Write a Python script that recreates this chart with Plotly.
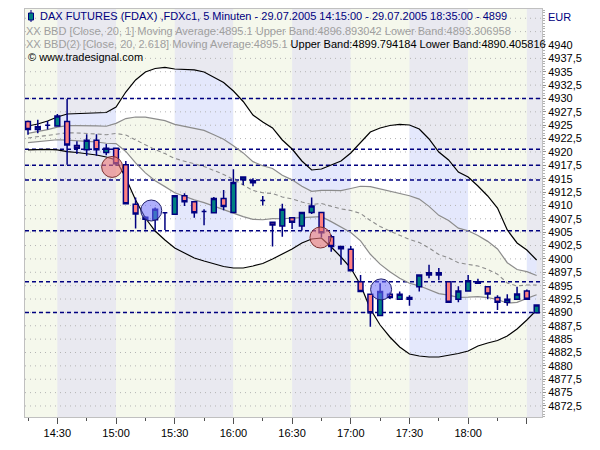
import numpy as np
import pandas as pd
import plotly.graph_objects as go

DAY = "2005-07-29 "

# 5-Minuten-Kerzen FDAX, 14:15 bis 18:35
bar_times = pd.date_range(DAY + "14:15", DAY + "18:35", freq="5min")

open_ = [4925.70, 4924.20, 4925.00, 4924.85, 4925.70, 4921.20, 4920.40, 4922.20, 4919.90, 4920.70,
         4917.60, 4910.20, 4907.80, 4907.30, 4908.65, 4908.35, 4911.80, 4910.70, 4908.85, 4908.65,
         4911.30, 4908.70, 4914.80, 4914.60, 4910.90, 4906.85, 4906.15, 4907.70, 4906.15, 4908.70,
         4908.70, 4904.15, 4902.30, 4901.80, 4895.75, 4893.40, 4889.40, 4893.40, 4892.45, 4892.80,
         4894.80, 4897.00, 4897.00, 4895.75, 4892.45, 4894.00, 4895.75, 4894.80, 4892.80, 4891.90,
         4892.45, 4894.00, 4889.95]
high = [4925.90, 4926.00, 4925.80, 4927.10, 4929.90, 4922.00, 4923.30, 4923.30, 4921.50, 4920.70,
        4918.30, 4911.50, 4908.00, 4909.60, 4908.65, 4911.80, 4912.30, 4910.70, 4909.30, 4911.60,
        4912.90, 4916.75, 4915.30, 4915.10, 4911.75, 4906.85, 4910.30, 4907.70, 4908.70, 4911.50,
        4908.70, 4904.50, 4902.30, 4902.40, 4897.00, 4893.40, 4895.45, 4893.70, 4893.90, 4893.20,
        4897.00, 4898.90, 4898.30, 4895.75, 4894.90, 4897.00, 4896.30, 4894.80, 4893.20, 4893.40,
        4894.80, 4894.30, 4891.40]
low = [4923.20, 4923.50, 4924.20, 4924.80, 4917.60, 4919.60, 4919.30, 4919.30, 4919.40, 4917.40,
       4910.30, 4905.70, 4905.50, 4905.30, 4905.40, 4908.30, 4909.90, 4907.70, 4906.30, 4908.65,
       4909.10, 4908.60, 4913.80, 4913.60, 4910.00, 4902.30, 4904.15, 4905.60, 4905.30, 4908.40,
       4904.00, 4901.35, 4898.90, 4897.80, 4893.90, 4887.30, 4889.40, 4892.50, 4892.45, 4891.25,
       4893.90, 4896.40, 4896.00, 4891.90, 4891.90, 4894.00, 4895.45, 4892.45, 4890.45, 4891.25,
       4892.45, 4892.45, 4889.95]
close = [4924.20, 4924.70, 4925.00, 4926.70, 4921.30, 4920.70, 4922.20, 4920.40, 4920.70, 4917.80,
         4910.30, 4908.40, 4907.40, 4909.30, 4908.65, 4911.80, 4910.70, 4908.65, 4908.85, 4911.30,
         4909.80, 4914.30, 4915.30, 4914.25, 4910.90, 4906.35, 4909.30, 4906.85, 4908.70, 4909.90,
         4904.90, 4902.30, 4901.90, 4897.80, 4893.90, 4889.95, 4893.90, 4892.80, 4893.40, 4892.45,
         4897.00, 4897.40, 4897.40, 4891.90, 4894.00, 4895.90, 4895.45, 4893.45, 4891.90, 4892.45,
         4893.45, 4892.45, 4891.40]

# Bollinger-Baender (20, 2.618) aussen und (20, 1) innen
bb_upper2 = [4924.85, 4925.23, 4925.79, 4926.54, 4927.10, 4927.19, 4927.29, 4927.29, 4927.38, 4928.41,
             4931.21, 4933.46, 4934.95, 4935.61, 4935.83, 4935.51, 4935.42, 4935.33, 4934.95, 4934.02,
             4932.99, 4931.40, 4929.44, 4926.91, 4925.60, 4924.48, 4922.24, 4920.55, 4918.31, 4916.63,
             4916.81, 4917.56, 4918.31, 4919.81, 4921.86, 4923.73, 4924.48, 4924.95, 4925.17, 4925.04,
             4924.29, 4922.42, 4919.99, 4918.50, 4916.25, 4915.32, 4913.63, 4911.77, 4909.52, 4905.41,
             4902.98, 4901.67, 4899.79]
bb_upper1 = [4923.47, 4923.76, 4924.16, 4924.63, 4924.92, 4924.94, 4924.95, 4924.86, 4924.81, 4925.35,
             4926.24, 4926.53, 4926.51, 4926.22, 4925.85, 4925.17, 4924.82, 4924.47, 4924.03, 4923.21,
             4922.36, 4921.17, 4919.82, 4918.19, 4917.42, 4916.91, 4915.65, 4914.78, 4913.57, 4912.64,
             4912.82, 4912.82, 4912.76, 4913.16, 4913.59, 4913.51, 4913.10, 4912.73, 4912.30, 4911.81,
             4911.18, 4909.83, 4908.15, 4907.20, 4905.76, 4905.27, 4904.39, 4903.28, 4901.87, 4899.29,
             4898.01, 4897.63, 4896.89]
bb_ma = [4922.61, 4922.85, 4923.15, 4923.46, 4923.58, 4923.55, 4923.50, 4923.36, 4923.22, 4923.46,
         4923.17, 4922.24, 4921.30, 4920.42, 4919.69, 4918.78, 4918.27, 4917.75, 4917.28, 4916.54,
         4915.79, 4914.85, 4913.87, 4912.80, 4912.37, 4912.23, 4911.58, 4911.21, 4910.65, 4910.18,
         4910.36, 4909.90, 4909.34, 4909.06, 4908.49, 4907.19, 4906.06, 4905.18, 4904.35, 4903.63,
         4903.07, 4902.04, 4900.83, 4900.22, 4899.28, 4899.05, 4898.68, 4898.03, 4897.14, 4895.50,
         4894.94, 4895.13, 4895.10]
bb_lower1 = [4921.75, 4921.93, 4922.13, 4922.28, 4922.23, 4922.15, 4922.05, 4921.86, 4921.63, 4921.56,
             4920.10, 4917.95, 4916.09, 4914.61, 4913.52, 4912.38, 4911.71, 4911.03, 4910.53, 4909.86,
             4909.21, 4908.53, 4907.92, 4907.41, 4907.32, 4907.55, 4907.51, 4907.64, 4907.72, 4907.71,
             4907.90, 4906.97, 4905.91, 4904.95, 4903.38, 4900.87, 4899.02, 4897.62, 4896.40, 4895.45,
             4894.97, 4894.26, 4893.51, 4893.24, 4892.80, 4892.84, 4892.96, 4892.78, 4892.40, 4891.72,
             4891.87, 4892.63, 4893.31]
bb_lower2 = [4920.37, 4920.46, 4920.50, 4920.37, 4920.05, 4919.90, 4919.71, 4919.43, 4919.06, 4918.50,
             4915.13, 4911.02, 4907.65, 4905.22, 4903.54, 4902.04, 4901.11, 4900.17, 4899.61, 4899.05,
             4898.58, 4898.30, 4898.30, 4898.68, 4899.14, 4899.98, 4900.92, 4901.86, 4902.98, 4903.72,
             4903.91, 4902.23, 4900.36, 4898.30, 4895.12, 4890.64, 4887.64, 4885.40, 4883.53, 4882.22,
             4881.85, 4881.66, 4881.66, 4881.94, 4882.31, 4882.78, 4883.72, 4884.28, 4884.75, 4885.59,
             4886.90, 4888.58, 4890.41]

# horizontale Marken (gestrichelt)
levels = [4930, 4920.5, 4917.5, 4914.75, 4905.25, 4895.75, 4890]

# Signale (Kreise)
signal_times = [DAY + "14:58:00", DAY + "15:18:00", DAY + "16:44:30", DAY + "17:15:30"]
signal_values = [4917.2, 4909.05, 4904.0, 4894.3]
signal_kind = ["short", "long", "short", "long"]

tick_times = pd.date_range(DAY + "14:30", DAY + "18:30", freq="30min")
tick_labels = ["14:30", "15:00", "15:30", "16:00", "16:30", "17:00", "17:30", "18:00", ""]

# Preisachse: beschriftet von 4872,5 bis 4940
price_ticks = np.arange(4872.5, 4940.1, 2.5)
price_labels = [f"{v:g}".replace(".", ",") for v in price_ticks]

x_range = [pd.Timestamp(DAY + "14:13:28"), pd.Timestamp(DAY + "18:37:45")]
y_range = [4870.44, 4946.73]

FONT = "Liberation Sans, Arial, sans-serif"
GREEN_BG, GREY_BG = "#f5f8ec", "#e9e9f0"
WHITE_FILL, BLUE_FILL = "#ffffff", "#e4e8fc"


def main():
    fig = go.Figure()

    u2, u1 = np.array(bb_upper2), np.array(bb_upper1)
    l1, l2 = np.array(bb_lower1), np.array(bb_lower2)

    # Halbstunden-Streifen im Hintergrund, und die Band-Fuellung je Streifen
    band_starts = pd.date_range(DAY + "14:00", DAY + "18:30", freq="30min")
    for k, start in enumerate(band_starts):
        end = start + pd.Timedelta(minutes=30)
        fig.add_shape(type="rect", xref="x", yref="paper",
                      x0=max(start, x_range[0]), x1=min(end, x_range[1]), y0=0, y1=1,
                      fillcolor=GREEN_BG if k % 2 == 0 else GREY_BG,
                      line_width=0, layer="below")

        mask = (bar_times >= start) & (bar_times <= end)
        if mask.sum() < 2:
            continue
        t = list(bar_times[mask])
        fill = WHITE_FILL if k % 2 == 0 else BLUE_FILL
        for a, b in [(u2, u1), (l1, l2)]:
            fig.add_trace(go.Scatter(
                x=t + t[::-1], y=list(a[mask]) + list(b[mask][::-1]),
                fill="toself", fillcolor=fill, line_width=0,
                mode="lines", hoverinfo="skip"))

    # punktiertes Raster alle 2,5 Punkte
    gx, gy = [], []
    for v in np.arange(4872.5, 4945.1, 2.5):
        gx += [x_range[0], x_range[1], None]
        gy += [v, v, None]
    fig.add_trace(go.Scatter(x=gx, y=gy, mode="lines", hoverinfo="skip",
                             line=dict(color="#b4b4b4", width=1, dash="1px,4px")))

    # gestrichelte Marken
    for v in levels:
        fig.add_trace(go.Scatter(x=x_range, y=[v, v], mode="lines", hoverinfo="skip",
                                 line=dict(color="#000080", width=1.5, dash="4px,3px")))

    # Baender
    fig.add_trace(go.Scatter(x=bar_times, y=bb_upper1, mode="lines",
                             line=dict(color="#8c8c8c", width=1.2)))
    fig.add_trace(go.Scatter(x=bar_times, y=bb_lower1, mode="lines",
                             line=dict(color="#8c8c8c", width=1.2)))
    fig.add_trace(go.Scatter(x=bar_times, y=bb_ma, mode="lines",
                             line=dict(color="#8c8c8c", width=1.1, dash="4px,3px")))
    fig.add_trace(go.Scatter(x=bar_times, y=bb_upper2, mode="lines",
                             line=dict(color="#000000", width=1.2)))
    fig.add_trace(go.Scatter(x=bar_times, y=bb_lower2, mode="lines",
                             line=dict(color="#000000", width=1.2)))

    # Kerzen auf einer ueberlagerten Achse, damit sie ueber den Linien liegen
    fig.add_trace(go.Candlestick(
        x=bar_times, open=open_, high=high, low=low, close=close,
        xaxis="x2", yaxis="y2",
        increasing=dict(fillcolor="#008080", line=dict(color="#000080", width=1.5)),
        decreasing=dict(fillcolor="#ff8080", line=dict(color="#000080", width=1.5)),
    ))

    fill_map = {"short": "rgba(235,120,120,0.6)", "long": "rgba(110,110,250,0.55)"}
    edge_map = {"short": "#7a3030", "long": "#20206a"}
    fig.add_trace(go.Scatter(
        x=signal_times, y=signal_values, mode="markers",
        xaxis="x2", yaxis="y2",
        marker=dict(size=21, color=[fill_map[k] for k in signal_kind],
                    line=dict(color=[edge_map[k] for k in signal_kind], width=1)),
    ))

    # Kopfzeilen
    def px(x):
        return (x - 25) / 517

    def py(y):
        return (417 - y) / 408

    head = [
        (px(38), py(16), "<span style='color:#000080'>DAX FUTURES (FDAX) ,FDXc1, 5 Minuten - "
                         "29.07.2005 14:15:00 - 29.07.2005 18:35:00 - 4899</span>"),
        (px(24), py(30.5), "<span style='color:#a0a0a0'>XX BBD [Close, 20, 1] Moving Average:4895.1 "
                           "Upper Band:4896.893042 Lower Band:4893.306958</span>"),
        (px(24), py(43.5), "<span style='color:#a0a0a0'>XX BBD(2) [Close, 20, 2.618] Moving "
                           "Average:4895.1</span> Upper Band:4899.794184 Lower Band:4890.405816"),
        (px(26), py(57.3), "© www.tradesignal.com"),
    ]
    for x, y, txt in head:
        fig.add_annotation(x=x, y=y, xref="paper", yref="paper", text=txt,
                           showarrow=False, xanchor="left", yanchor="middle",
                           font=dict(family=FONT, size=11, color="#000000"))
    fig.add_annotation(x=px(546), y=py(17), xref="paper", yref="paper", text="EUR",
                       showarrow=False, xanchor="left", yanchor="middle",
                       font=dict(family=FONT, size=11, color="#000080"))

    # kleines Kerzen-Symbol vor der ersten Zeile
    fig.add_shape(type="line", xref="paper", yref="paper", xsizemode="pixel", ysizemode="pixel",
                  xanchor=px(31), yanchor=py(16), x0=0, x1=0, y0=-6, y1=6,
                  line=dict(color="#000080", width=1))
    fig.add_shape(type="rect", xref="paper", yref="paper", xsizemode="pixel", ysizemode="pixel",
                  xanchor=px(31), yanchor=py(16), x0=-2.5, x1=2.5, y0=-4, y1=3,
                  fillcolor="#008080", line=dict(color="#000080", width=1))

    axis_font = dict(family=FONT, size=11, color="#000000")
    fig.update_layout(
        width=600, height=450,
        margin=dict(l=25, r=58, t=9, b=33),
        paper_bgcolor="white", plot_bgcolor=GREEN_BG,
        showlegend=False,
        xaxis=dict(
            type="date", range=x_range,
            tickmode="array", tickvals=tick_times, ticktext=tick_labels,
            ticks="outside", ticklen=6, tickcolor="#505050", tickfont=axis_font,
            minor=dict(dtick=15 * 60 * 1000, tick0=DAY + "14:15", ticks="outside",
                       ticklen=3, tickcolor="#505050"),
            showgrid=False, zeroline=False,
            showline=True, linecolor="#c0c0c0", mirror=True,
            rangeslider=dict(visible=False),
        ),
        yaxis=dict(
            side="right", range=y_range,
            tickmode="array", tickvals=price_ticks, ticktext=price_labels,
            ticks="outside", ticklen=3, tickcolor="#909090", tickfont=axis_font,
            minor=dict(dtick=0.5, ticks="outside", ticklen=2, tickcolor="#b0b0b0"),
            showgrid=False, zeroline=False,
            showline=True, linecolor="#c0c0c0", mirror=True,
        ),
        xaxis2=dict(overlaying="x", matches="x", visible=False,
                    rangeslider=dict(visible=False)),
        yaxis2=dict(overlaying="y", matches="y", visible=False),
    )

    # Seitenrand des Browsers entfernen, damit die Grafik bei 0,0 beginnt
    fig.write_html("out.html", config={"displayModeBar": False},
                   post_script="document.body.style.margin='0';")


main()
